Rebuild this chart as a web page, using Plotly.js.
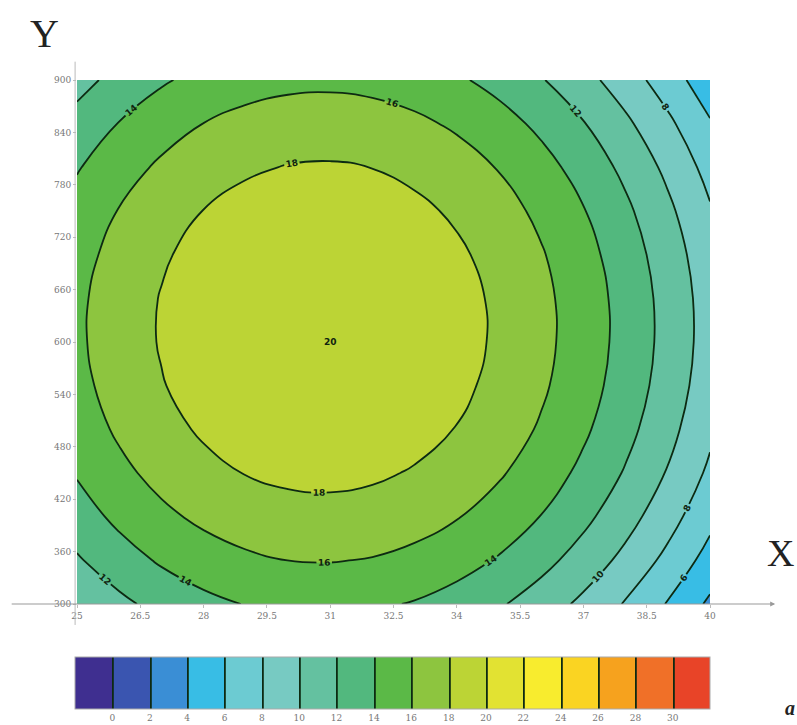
<!DOCTYPE html>
<html>
<head>
<meta charset="utf-8">
<script src="https://cdn.plot.ly/plotly-3.0.1.min.js"></script>
<style>html,body{margin:0;padding:0;background:#fff;}#chart{width:797px;height:725px;}</style>
</head>
<body>
<div id="chart"></div>
<script>
// X positions (data units)
const xVals = [25, 26, 27, 28, 29, 30, 31, 32, 33, 34, 35, 36, 37, 38, 39, 40];
// Y positions (data units)
const yVals = [300, 350, 400, 450, 500, 550, 600, 650, 700, 750, 800, 850, 900];
// Field values, one row per Y value
const zRow300 = [10.18, 11.53, 12.64, 13.48, 14.07, 14.40, 14.48, 14.30, 13.87, 13.17, 12.23, 11.02, 9.56, 7.84, 5.87, 3.64];
const zRow350 = [11.78, 13.14, 14.24, 15.08, 15.67, 16.01, 16.08, 15.90, 15.47, 14.78, 13.83, 12.62, 11.16, 9.45, 7.47, 5.24];
const zRow400 = [13.11, 14.46, 15.57, 16.41, 17.00, 17.33, 17.41, 17.23, 16.80, 16.10, 15.16, 13.95, 12.49, 10.77, 8.80, 6.57];
const zRow450 = [14.16, 15.52, 16.62, 17.47, 18.06, 18.39, 18.47, 18.29, 17.85, 17.16, 16.21, 15.01, 13.55, 11.83, 9.86, 7.63];
const zRow500 = [14.94, 16.30, 17.40, 18.25, 18.83, 19.17, 19.24, 19.07, 18.63, 17.94, 16.99, 15.79, 14.32, 12.61, 10.63, 8.41];
const zRow550 = [15.44, 16.80, 17.90, 18.75, 19.34, 19.67, 19.75, 19.57, 19.13, 18.44, 17.49, 16.29, 14.83, 13.11, 11.14, 8.91];
const zRow600 = [15.67, 17.03, 18.13, 18.98, 19.57, 19.90, 19.98, 19.80, 19.36, 18.67, 17.72, 16.52, 15.06, 13.34, 11.37, 9.14];
const zRow650 = [15.63, 16.99, 18.09, 18.94, 19.53, 19.86, 19.94, 19.76, 19.32, 18.63, 17.68, 16.48, 15.02, 13.30, 11.33, 9.10];
const zRow700 = [15.31, 16.67, 17.77, 18.62, 19.21, 19.54, 19.62, 19.44, 19.00, 18.31, 17.36, 16.16, 14.70, 12.98, 11.01, 8.78];
const zRow750 = [14.72, 16.08, 17.18, 18.03, 18.61, 18.95, 19.02, 18.85, 18.41, 17.72, 16.77, 15.57, 14.10, 12.39, 10.41, 8.19];
const zRow800 = [13.85, 15.21, 16.31, 17.16, 17.75, 18.08, 18.16, 17.98, 17.54, 16.85, 15.90, 14.70, 13.24, 11.52, 9.55, 7.32];
const zRow850 = [12.71, 14.07, 15.17, 16.02, 16.61, 16.94, 17.02, 16.84, 16.40, 15.71, 14.76, 13.56, 12.10, 10.38, 8.41, 6.18];
const zRow900 = [11.30, 12.65, 13.76, 14.60, 15.19, 15.52, 15.60, 15.42, 14.99, 14.29, 13.35, 12.14, 10.68, 8.96, 6.99, 4.76];
const zRows = [zRow300, zRow350, zRow400, zRow450, zRow500, zRow550, zRow600, zRow650, zRow700, zRow750, zRow800, zRow850, zRow900];

// Axis ticks
const xTicks = [25, 26.5, 28, 29.5, 31, 32.5, 34, 35.5, 37, 38.5, 40];
const xTickText = ['25', '26.5', '28', '29.5', '31', '32.5', '34', '35.5', '37', '38.5', '40'];
const yTicks = [300, 360, 420, 480, 540, 600, 660, 720, 780, 840, 900];
const cbTicks = [0, 2, 4, 6, 8, 10, 12, 14, 16, 18, 20, 22, 24, 26, 28, 30];

// Band colours, lowest band first
const bandColors = ['#3f2f90', '#3a55b0', '#3a8ed5', '#38bde5', '#6ccbd2', '#77cac2', '#64c1a0', '#52b87e',
  '#5bb947', '#8dc53f', '#bcd435', '#e2e232', '#f8ec2e', '#fad422', '#f6a21e', '#f07028', '#e84428'];
const colorscale = bandColors.map((c, i) => [i / (bandColors.length - 1), c]);

// peak location from the grid
let best = {v: -Infinity, x: 0, y: 0};
zRows.forEach((row, j) => row.forEach((v, i) => { if (v > best.v) best = {v, x: xVals[i], y: yVals[j]}; }));

const trace = {
  type: 'contour',
  x: xVals, y: yVals, z: zRows,
  autocontour: false,
  contours: {start: 0, end: 30, size: 2, coloring: 'fill', showlabels: true,
    labelfont: {family: 'DejaVu Sans', size: 9, color: '#10240f', weight: 'bold'}},
  line: {color: '#0d2a12', width: 1.8, smoothing: 1.3},
  colorscale: colorscale,
  zauto: false, zmin: -2, zmax: 32,
  hoverinfo: 'skip',
  colorbar: {
    orientation: 'h', x: -0.003, xanchor: 'left', y: -0.101, yanchor: 'top',
    len: 1.003, lenmode: 'fraction', thickness: 52, thicknessmode: 'pixels',
    xpad: 0, ypad: 0,
    outlinewidth: 1, outlinecolor: '#aaa',
    tickmode: 'array', tickvals: cbTicks, ticktext: cbTicks.map(String),
    ticks: '', ticklen: 0,
    tickfont: {family: 'DejaVu Serif', size: 9, color: '#777'}
  }
};

const layout = {
  width: 797, height: 725,
  margin: {l: 77, r: 87, t: 80, b: 121, pad: 0, autoexpand: false},
  paper_bgcolor: '#ffffff', plot_bgcolor: '#ffffff',
  showlegend: false,
  xaxis: {range: [25, 40], tickmode: 'array', tickvals: xTicks, ticktext: xTickText,
    ticks: 'outside', ticklen: 3, tickcolor: '#bbb', showgrid: false, zeroline: false, showline: false,
    ticklabelstandoff: 0,
    tickfont: {family: 'DejaVu Serif', size: 9, color: '#777'}},
  yaxis: {range: [300, 900], tickmode: 'array', tickvals: yTicks,
    ticks: 'outside', ticklen: 3, tickcolor: '#bbb', showgrid: false, zeroline: false, showline: false,
    tickfont: {family: 'DejaVu Serif', size: 9, color: '#777'}},
  shapes: [
    {type: 'line', xref: 'paper', yref: 'paper', x0: -0.003, x1: -0.003, y0: -0.04, y1: 1.035,
      line: {color: '#bbb', width: 1}}
  ],
  annotations: [
    {xref: 'paper', yref: 'paper', x: 1.103, y: 0, ax: -765, ay: 0, axref: 'pixel', ayref: 'pixel',
      text: '', showarrow: true, arrowhead: 2, arrowsize: 1, arrowwidth: 1, arrowcolor: '#999'},
    {xref: 'paper', yref: 'paper', x: -0.052, y: 1.088, xanchor: 'center', yanchor: 'middle',
      text: 'Y', showarrow: false, font: {family: 'Liberation Serif', size: 40, color: '#222'}},
    {xref: 'paper', yref: 'paper', x: 1.111, y: 0.098, xanchor: 'center', yanchor: 'middle',
      text: 'X', showarrow: false, font: {family: 'Liberation Serif', size: 38, color: '#222'}},
    {xref: 'paper', yref: 'paper', x: 1.126, y: -0.198, xanchor: 'center', yanchor: 'middle',
      text: '<b><i>a</i></b>', showarrow: false, font: {family: 'Liberation Serif', size: 20, color: '#222'}},
    {x: best.x, y: best.y, text: '<b>20</b>', showarrow: false,
      font: {family: 'DejaVu Sans', size: 9, color: '#10240f'}}
  ]
};

Plotly.newPlot('chart', [trace], layout, {displayModeBar: false, staticPlot: true});
</script>
</body>
</html>
